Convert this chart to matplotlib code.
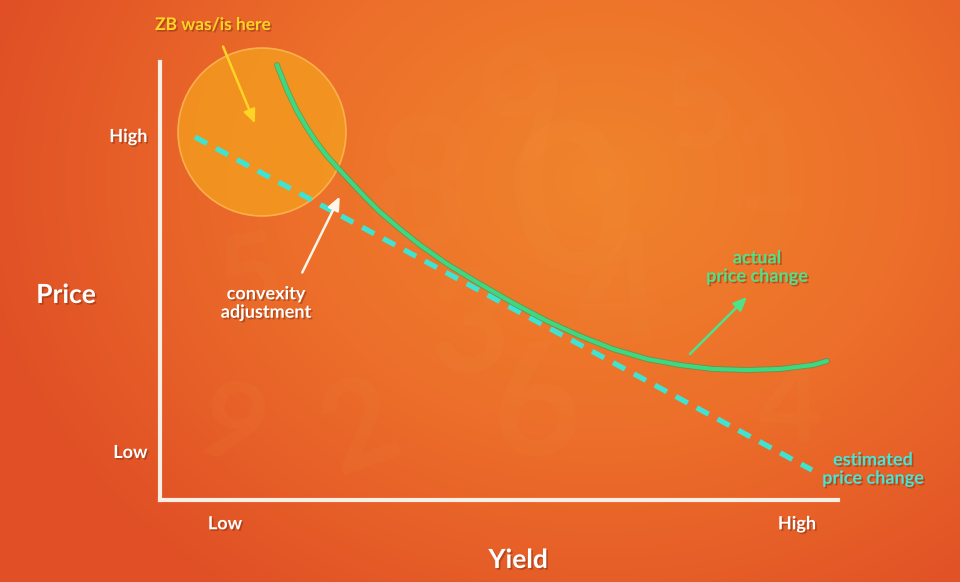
import numpy as np
import matplotlib
matplotlib.use("Agg")
import matplotlib.pyplot as plt
from matplotlib.patches import Circle
import matplotlib.patheffects as pe
from matplotlib.colors import LinearSegmentedColormap

# ---------------- data (axis units: yield -> right, price -> up) ----------------
actual_yield = [117, 127, 137, 147, 157, 167, 177, 190, 205, 220, 240, 260, 287, 320,
                353, 387, 420, 453, 487, 520, 553, 587, 620, 653, 667]
actual_price = [435, 410, 389, 372, 357, 344, 333, 319, 303, 288, 271, 255, 236, 216,
                197, 179, 164, 151, 141, 135, 131, 130, 131, 135, 139]
est_yield = [35, 652]
est_price = [363, 30]
x_tick_pos = [65, 637]
x_tick_labels = ["Low", "High"]
y_tick_pos = [49, 365]
y_tick_labels = ["Low", "High"]
x_label = "Yield"
y_label = "Price"
circle_center = (102, 368)
circle_radius = 84

W, H = 960, 582
fig = plt.figure(figsize=(W / 100, H / 100), dpi=100)

# ---------------- background ----------------
bg = fig.add_axes([0, 0, 1, 1], zorder=0)
yy, xx = np.mgrid[0:H, 0:W]
r = np.sqrt(((xx - 600) / 640.0) ** 2 + ((yy - 180) / 520.0) ** 2)
cmap = LinearSegmentedColormap.from_list("bg", ["#f0842c", "#ec6e2a", "#e04f26"])
bg.imshow(np.clip(r, 0, 1), cmap=cmap, extent=[0, W, H, 0], aspect="auto", vmin=0, vmax=1)
bg.set_xlim(0, W)
bg.set_ylim(H, 0)
bg.axis("off")
digits = [("9", 530, 110, 20, 110), ("5", 700, 110, 10, 90), ("0", 575, 210, 10, 150),
          ("8", 420, 195, -10, 130), ("4", 620, 300, 5, 110), ("3", 470, 330, 0, 100),
          ("6", 535, 410, 10, 110), ("1", 770, 170, 0, 100), ("2", 360, 430, 20, 90),
          ("9", 230, 430, -20, 80), ("5", 250, 280, 10, 80), ("4", 790, 410, 0, 80)]
for d, dx, dy, rot, fs in digits:
    bg.text(dx, dy, d, fontsize=fs, fontweight="bold", color="#f7a050", alpha=0.07,
            ha="center", va="center", rotation=rot, family="Lato")

# ---------------- main axes ----------------
left_px, right_px, top_px, bot_px = 160, 838, 62, 500
ax = fig.add_axes([left_px / W, 1 - bot_px / H, (right_px - left_px) / W, (bot_px - top_px) / H], zorder=2)
ax.patch.set_alpha(0)
ax.set_xlim(0, right_px - left_px)
ax.set_ylim(0, bot_px - top_px)
for s in ["top", "right"]:
    ax.spines[s].set_visible(False)
for s in ["left", "bottom"]:
    ax.spines[s].set_color("#fbeee4")
    ax.spines[s].set_linewidth(3)

shadow = [pe.SimplePatchShadow(offset=(1.2, -1.2), alpha=0.45, shadow_rgbFace="#7a2a10"), pe.Normal()]
FONT = "Lato"

ax.set_xticks(x_tick_pos)
ax.set_xticklabels(x_tick_labels)
ax.set_yticks(y_tick_pos)
ax.set_yticklabels(y_tick_labels)
ax.tick_params(length=0, colors="white", labelsize=13)
ax.tick_params(axis="x", pad=11)
ax.tick_params(axis="y", pad=9)
for lab in ax.get_xticklabels() + ax.get_yticklabels():
    lab.set_fontfamily(FONT)
    lab.set_fontweight("bold")
    lab.set_path_effects(shadow)


def P(px, py):
    return (px - left_px, bot_px - py)


# axis titles
ax.text(*P(66, 295), y_label, fontsize=19, fontweight="bold", color="white", family=FONT,
        ha="center", va="center", path_effects=shadow, clip_on=False)
ax.text(*P(518, 560), x_label, fontsize=19, fontweight="bold", color="white", family=FONT,
        ha="center", va="center", path_effects=shadow, clip_on=False)

# circle
circ = Circle(circle_center, circle_radius, facecolor="#f5a01e", alpha=0.75, edgecolor="#ffc05a",
              linewidth=1.2, zorder=1, clip_on=False)
ax.add_patch(circ)

# estimated (dashed) line
ax.plot(est_yield, est_price, color="#3fe3d2", linewidth=3.8, linestyle=(0, (2.6, 1.9)),
        zorder=3, clip_on=False)
# actual curve
ax.plot(actual_yield, actual_price, color="#3ed882", linewidth=3.0, zorder=4, clip_on=False,
        solid_capstyle="round", solid_joinstyle="round",
        path_effects=[pe.Stroke(linewidth=4.2, foreground="#2b9a5a", alpha=0.6), pe.Normal()])

# annotations
ax.text(*P(213, 25), "ZB was/is here", fontsize=12.5, fontweight="bold", color="#ffd426", family=FONT,
        ha="center", va="center", path_effects=shadow, clip_on=False)
ax.annotate("", xy=P(256, 126), xytext=P(222, 44),
            arrowprops=dict(arrowstyle="-|>,head_length=0.8,head_width=0.35", color="#ffd426", lw=1.8),
            annotation_clip=False)

ax.text(*P(266, 303), "convexity\nadjustment", fontsize=13, fontweight="bold", color="white",
        family=FONT, ha="center", va="center", linespacing=1.1, path_effects=shadow, clip_on=False)
ax.annotate("", xy=P(341, 194), xytext=P(301, 275),
            arrowprops=dict(arrowstyle="-|>,head_length=0.8,head_width=0.35", color="#fff4e8", lw=1.8),
            annotation_clip=False)

ax.text(*P(757, 267), "actual\nprice change", fontsize=13, fontweight="bold", color="#4ee38a",
        family=FONT, ha="center", va="center", linespacing=1.1, path_effects=shadow, clip_on=False)
ax.annotate("", xy=P(749, 295), xytext=P(688, 356),
            arrowprops=dict(arrowstyle="-|>,head_length=0.8,head_width=0.35", color="#4ee38a", lw=1.8),
            annotation_clip=False)

ax.text(*P(873, 469), "estimated\nprice change", fontsize=13, fontweight="bold", color="#44e6d6",
        family=FONT, ha="center", va="center", linespacing=1.1, path_effects=shadow, clip_on=False)

fig.savefig("out.png", dpi=100)
